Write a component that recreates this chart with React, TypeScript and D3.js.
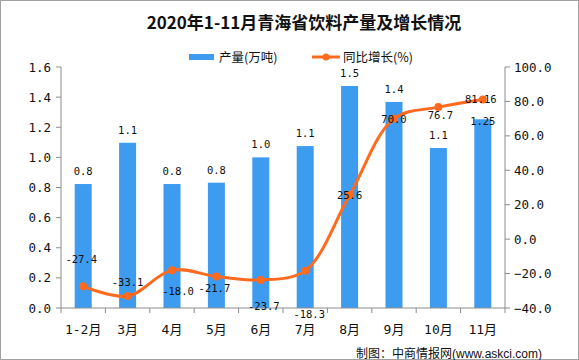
import React from "react";
import * as d3 from "d3";

const categories = ["1-2月", "3月", "4月", "5月", "6月", "7月", "8月", "9月", "10月", "11月"];
const output = [0.823, 1.097, 0.823, 0.832, 1.0, 1.075, 1.474, 1.368, 1.062, 1.253];
const outputLabels = ["0.8", "1.1", "0.8", "0.8", "1.0", "1.1", "1.5", "1.4", "1.1", "1.25"];
const growth = [-27.4, -33.1, -18.0, -21.7, -23.7, -18.3, 25.6, 70.0, 76.7, 81.16];
const growthLabels = ["-27.4", "-33.1", "-18.0", "-21.7", "-23.7", "-18.3", "25.6", "70.0", "76.7", "81.16"];
const leftTicks = [0, 0.2, 0.4, 0.6, 0.8, 1.0, 1.2, 1.4, 1.6];
const rightTicks = [-40, -20, 0, 20, 40, 60, 80, 100];

// label placement offsets (layout only)
const barLabelDy = [-13, -13, -13, -13, -13, -13, -13, -13, -13, 2];
const lineLabelDx = [-2, 0, 6, -2, 3, 4, 0, 0, 2, -2];
const lineLabelDy = [-27, -14, 21, 12, 26, 43, 0, 0, 8, 0];

const W = 579, H = 360;
const M = { left: 61, right: 505, top: 67, bottom: 308 };
const BLUE = "#3D9BF0";
const ORANGE = "#FF6A1E";
const AXIS = "#8c8c8c";
const MONO = "'DejaVu Sans Mono', 'Liberation Mono', monospace";
const CJK = "'Noto Sans CJK SC', 'DejaVu Sans', sans-serif";

export default function App() {
  const x = d3.scaleBand<string>().domain(categories).range([M.left, M.right]).paddingInner(0).paddingOuter(0);
  const yL = d3.scaleLinear().domain([0, 1.6]).range([M.bottom, M.top]);
  const yR = d3.scaleLinear().domain([-40, 100]).range([M.bottom, M.top]);
  const bw = 17;
  const cx = (i: number) => (x(categories[i]) as number) + x.bandwidth() / 2;
  const line = d3
    .line<number>()
    .x((_, i) => cx(i))
    .y((d) => yR(d))
    .curve(d3.curveCatmullRom.alpha(0.5));
  const fmt = d3.format(".1f");
  const boundaries = categories.map((c) => x(c) as number).concat([M.right]);

  return (
    <div style={{ position: "fixed", left: 0, top: 0 }}>
      <svg width={W} height={H} style={{ display: "block", background: "#fff" }}>
        <rect x={0.5} y={0.5} width={W - 1} height={H - 1} fill="#fff" stroke="#a0a0a0" />
        <text x={304} y={29} textAnchor="middle" fontFamily={CJK} fontWeight="bold" fontSize={17} fill="#111">
          2020年1-11月青海省饮料产量及增长情况
        </text>
        {/* legend */}
        <rect x={189} y={54} width={25} height={6} fill={BLUE} />
        <text x={219} y={61.5} fontFamily={CJK} fontSize={12.5} fill="#111">产量(万吨)</text>
        <line x1={312} x2={340} y1={57} y2={57} stroke={ORANGE} strokeWidth={3} />
        <circle cx={326} cy={57} r={3.5} fill={ORANGE} />
        <text x={343} y={61.5} fontFamily={CJK} fontSize={12.5} fill="#111">同比增长(%)</text>

        {/* bars */}
        {output.map((v, i) => (
          <rect key={"b" + i} x={cx(i) - bw / 2} y={yL(v)} width={bw} height={yL(0) - yL(v)} fill={BLUE} />
        ))}

        {/* axes */}
        <line x1={M.left} x2={M.left} y1={M.top} y2={M.bottom} stroke={AXIS} />
        <line x1={M.right} x2={M.right} y1={M.top} y2={M.bottom} stroke={AXIS} />
        <line x1={M.left} x2={M.right} y1={M.bottom} y2={M.bottom} stroke={AXIS} />
        {leftTicks.map((t) => (
          <g key={"l" + t}>
            <line x1={M.left - 5} x2={M.left} y1={yL(t)} y2={yL(t)} stroke={AXIS} />
            <text x={51} y={yL(t) + 4.5} textAnchor="end" fontFamily={MONO} fontSize={12.5} fill="#111">
              {fmt(t)}
            </text>
          </g>
        ))}
        {rightTicks.map((t) => (
          <g key={"r" + t}>
            <line x1={M.right} x2={M.right + 5} y1={yR(t)} y2={yR(t)} stroke={AXIS} />
            <text x={514} y={yR(t) + 4.5} textAnchor="start" fontFamily={MONO} fontSize={12.5} fill="#111">
              {fmt(t)}
            </text>
          </g>
        ))}
        {boundaries.map((b, i) => (
          <line key={"xt" + i} x1={b} x2={b} y1={M.bottom} y2={M.bottom + 5} stroke={AXIS} />
        ))}
        {categories.map((c, i) => (
          <text key={"xl" + i} x={cx(i)} y={334} textAnchor="middle" fontFamily={MONO + ", 'Noto Sans CJK SC'"} fontSize={13} fill="#111">
            {c}
          </text>
        ))}

        {/* bar labels */}
        {output.map((v, i) => (
          <text key={"bl" + i} x={cx(i)} y={yL(v) + barLabelDy[i] + 4} textAnchor="middle" fontFamily={MONO} fontSize={10.5} fill="#111">
            {outputLabels[i]}
          </text>
        ))}

        {/* line */}
        <path d={line(growth) || ""} fill="none" stroke={ORANGE} strokeWidth={3} />
        {growth.map((v, i) => (
          <circle key={"p" + i} cx={cx(i)} cy={yR(v)} r={4} fill={ORANGE} />
        ))}
        {growth.map((v, i) => (
          <text key={"gl" + i} x={cx(i) + lineLabelDx[i]} y={yR(v) + lineLabelDy[i] + 4} textAnchor="middle" fontFamily={MONO} fontSize={10.5} fill="#111">
            {growthLabels[i]}
          </text>
        ))}

        <text x={356} y={358} fontFamily={CJK} fontSize={12} fill="#111">
          制图：中商情报网<tspan fontFamily="'Liberation Sans', Arial, sans-serif">(www.askci.com)</tspan>
        </text>
      </svg>
    </div>
  );
}
